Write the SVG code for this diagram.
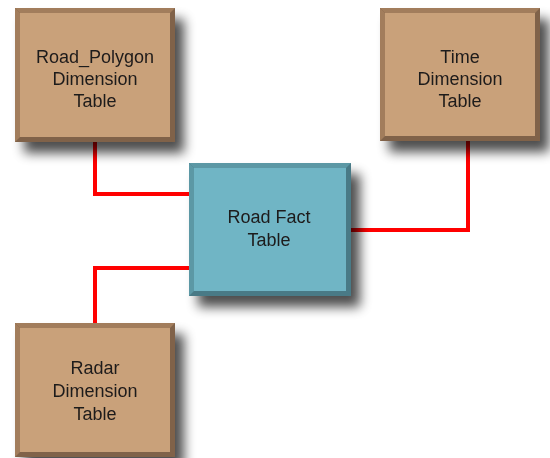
<svg xmlns="http://www.w3.org/2000/svg" width="550" height="458" viewBox="0 0 550 458">
  <style>
    .lbl { font-family: "Liberation Sans", Arial, sans-serif; font-size: 18px; fill: #1e1a1a; text-anchor: middle; }
    .wire { fill: none; stroke: #ff0000; stroke-width: 4; stroke-linejoin: miter; }
    .dimFace { fill: #c9a17a; }
    .dimLit { fill: #a27d5c; }
    .dimDark { fill: #80624a; }
    .factFace { fill: #70b5c5; }
    .factLit { fill: #5b98a5; }
    .factDark { fill: #487a86; }
  </style>
  <defs>
    <filter id="shadow" x="-20%" y="-20%" width="150%" height="150%">
      <feGaussianBlur in="SourceAlpha" stdDeviation="6"/>
      <feOffset dx="9" dy="11" result="blur"/>
      <feComponentTransfer><feFuncA type="linear" slope="0.7"/></feComponentTransfer>
      <feMerge><feMergeNode/><feMergeNode in="SourceGraphic"/></feMerge>
    </filter>
  </defs>
  <rect width="550" height="458" fill="#ffffff"/>

  <g id="connectors">
    <polyline class="wire" points="95,140 95,194 191,194"/>
    <polyline class="wire" points="95,325 95,268 191,268"/>
    <polyline class="wire" points="468,140 468,230 350,230"/>
  </g>

  <g id="road-polygon" filter="url(#shadow)">
    <rect x="15" y="8" width="160" height="134" class="dimDark"/>
    <polygon points="15,8 175,8 170,13 20,13" class="dimLit"/>
    <polygon points="15,8 20,13 20,137 15,142" class="dimLit"/>
    <rect x="20" y="13" width="150" height="124" class="dimFace"/>
    <text class="lbl" x="95" y="63">Road_Polygon</text>
    <text class="lbl" x="95" y="85">Dimension</text>
    <text class="lbl" x="95" y="107">Table</text>
  </g>

  <g id="time" filter="url(#shadow)">
    <rect x="380" y="8" width="160" height="133" class="dimDark"/>
    <polygon points="380,8 540,8 535,13 385,13" class="dimLit"/>
    <polygon points="380,8 385,13 385,136 380,141" class="dimLit"/>
    <rect x="385" y="13" width="150" height="123" class="dimFace"/>
    <text class="lbl" x="460" y="63">Time</text>
    <text class="lbl" x="460" y="85">Dimension</text>
    <text class="lbl" x="460" y="107">Table</text>
  </g>

  <g id="road-fact" filter="url(#shadow)">
    <rect x="189" y="163" width="162" height="133" class="factDark"/>
    <polygon points="189,163 351,163 346,168 194,168" class="factLit"/>
    <polygon points="189,163 194,168 194,291 189,296" class="factLit"/>
    <rect x="194" y="168" width="152" height="123" class="factFace"/>
    <text class="lbl" x="269" y="223">Road Fact</text>
    <text class="lbl" x="269" y="246">Table</text>
  </g>

  <g id="radar" filter="url(#shadow)">
    <rect x="15" y="323" width="160" height="134" class="dimDark"/>
    <polygon points="15,323 175,323 170,328 20,328" class="dimLit"/>
    <polygon points="15,323 20,328 20,452 15,457" class="dimLit"/>
    <rect x="20" y="328" width="150" height="124" class="dimFace"/>
    <text class="lbl" x="95" y="374">Radar</text>
    <text class="lbl" x="95" y="397">Dimension</text>
    <text class="lbl" x="95" y="420">Table</text>
  </g>
</svg>
